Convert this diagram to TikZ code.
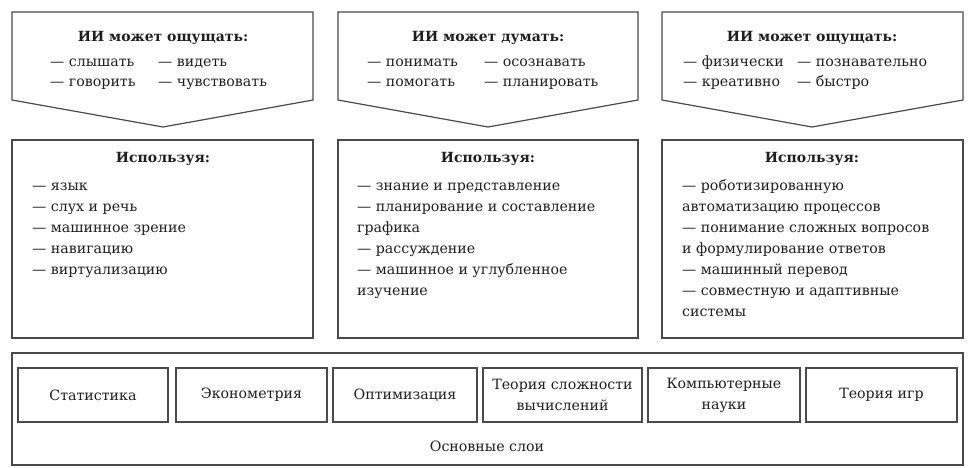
\documentclass[tikz,border=0pt]{standalone}
\usepackage{fontspec}
\setmainfont{DejaVu Serif}
\definecolor{inkgray}{HTML}{1F1F1F}
\definecolor{linegray}{HTML}{4A4A4A}
\tikzset{
    panel/.style = {draw=linegray, line width=1.2pt},
    head/.style  = {anchor=base, inner sep=0pt, text=inkgray, font=\fontsize{14}{20}\selectfont\bfseries},
    item/.style  = {anchor=base west, inner sep=0pt, text=inkgray, font=\fontsize{14.2}{20}\selectfont},
    layer/.style = {panel, minimum height=54pt, inner sep=2pt, align=center, text=inkgray,
                    font=\fontsize{14.2}{21}\selectfont},
}
\begin{document}
\begin{tikzpicture}[x=1pt, y=-1pt]
    \useasboundingbox (0,0) rectangle (975,467);
    % top row: what AI can do
    \foreach \l/\r/\m [count=\k] in {12/313/163, 338/638/488, 662/963/812}
        \draw[panel] (\l,12) -- (\r,12) -- (\r,100) -- (\m,127) -- (\l,100) -- cycle;
    \node[head] (senseA) at (163,41) {ИИ может ощущать:};
    \node[item] (a1) at (50,66) {— слышать};
    \node[item] (a2) at (158,66) {— видеть};
    \node[item] (a3) at (50,86) {— говорить};
    \node[item] (a4) at (158,86) {— чувствовать};
    \node[head] (think) at (488,41) {ИИ может думать:};
    \node[item] (b1) at (367,66) {— понимать};
    \node[item] (b2) at (484,66) {— осознавать};
    \node[item] (b3) at (367,86) {— помогать};
    \node[item] (b4) at (484,86) {— планировать};
    \node[head] (senseB) at (812,41) {ИИ может ощущать:};
    \node[item] (c1) at (683,66) {— физически};
    \node[item] (c2) at (797,66) {— познавательно};
    \node[item] (c3) at (683,86) {— креативно};
    \node[item] (c4) at (797,86) {— быстро};
    % middle row: using
    \foreach \l/\r in {12/313, 338/638, 662/963}
        \draw[panel] (\l,140) rectangle (\r,338);
    \node[head] (useA) at (163,162) {Используя:};
    \node[head] (useB) at (488,162) {Используя:};
    \node[head] (useC) at (812,162) {Используя:};
    \foreach \t [count=\i] in {— язык, — слух и речь, — машинное зрение, — навигацию, — виртуализацию}
        \node[item] (ua\i) at (32,169+21*\i) {\t};
    \foreach \t [count=\i] in {— знание и представление, — планирование и составление, графика,
                               — рассуждение, — машинное и углубленное, изучение}
        \node[item] (ub\i) at (357,169+21*\i) {\t};
    \foreach \t [count=\i] in {— роботизированную, автоматизацию процессов, — понимание сложных вопросов,
                               и формулирование ответов, — машинный перевод, — совместную и адаптивные, системы}
        \node[item] (uc\i) at (682,169+21*\i) {\t};
    % bottom: base layers
    \draw[panel] (12,353) rectangle (963,465);
    \node[layer, minimum width=150pt] (stat)  at (93,395)  {Статистика};
    \node[layer, minimum width=151pt] (econ)  at (251.5,395) {Эконометрия};
    \node[layer, minimum width=144pt] (optim) at (405,395) {Оптимизация};
    \node[layer, minimum width=159pt] (compl) at (562.5,395) {Теория сложности\\вычислений};
    \node[layer, minimum width=152pt] (cs)    at (724,395) {Компьютерные\\науки};
    \node[layer, minimum width=151pt] (games) at (881.5,395) {Теория игр};
    \node[item, anchor=base] (base) at (487,451) {Основные слои};
\end{tikzpicture}
\end{document}
